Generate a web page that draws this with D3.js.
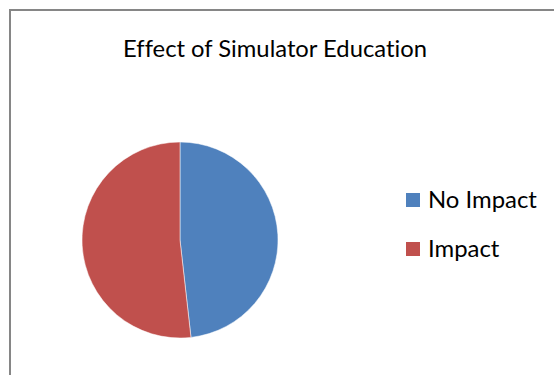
<!DOCTYPE html>
<html><head><meta charset="utf-8">
<script src="https://cdn.jsdelivr.net/npm/d3@7"></script>
<style>html,body{margin:0;padding:0;background:#fff;overflow:hidden}
text{font-variant-ligatures:none;font-feature-settings:"liga" 0,"clig" 0,"dlig" 0}</style>
</head><body>
<svg id="c" width="554" height="375"></svg>
<script>
const title = "Effect of Simulator Education";
const categories = ["No Impact", "Impact"];
const values = [27, 29];
const colors = ["#4F81BD", "#C0504D"];

const svg = d3.select("#c");
const font = "Lato, sans-serif";

svg.append("rect").attr("x", 10).attr("y", 10).attr("width", 560).attr("height", 400)
  .attr("fill", "#fff").attr("stroke", "#868686").attr("stroke-width", 2);

const t = svg.append("text").attr("x", 275).attr("y", 57).attr("text-anchor", "middle")
  .attr("font-family", font).attr("font-size", 20).attr("fill", "#000").text(title);
const tw = t.node().getComputedTextLength();
t.attr("font-size", 20 * 304 / tw);

const pie = d3.pie().sort(null).value(d => d)(values);
const arc = d3.arc().innerRadius(0).outerRadius(98);
const g = svg.append("g").attr("transform", "translate(180,240)");
g.selectAll("path").data(pie).join("path")
  .attr("d", arc).attr("fill", (d, i) => colors[i])
  .attr("stroke", "#fff").attr("stroke-width", 0.5);

const y = d3.scalePoint().domain(categories).range([200, 249]);
const lg = svg.append("g");
lg.selectAll("rect").data(categories).join("rect")
  .attr("x", 406).attr("y", d => y(d) - 7).attr("width", 14).attr("height", 14)
  .attr("fill", (d, i) => colors[i]);
const lt = lg.selectAll("text").data(categories).join("text")
  .attr("x", 428).attr("y", d => y(d) + 8)
  .attr("font-family", font).attr("font-size", 20).attr("fill", "#000").text(d => d);
const w0 = lt.nodes()[0].getComputedTextLength();
lt.attr("font-size", 20 * 109 / w0);
</script>
</body></html>
